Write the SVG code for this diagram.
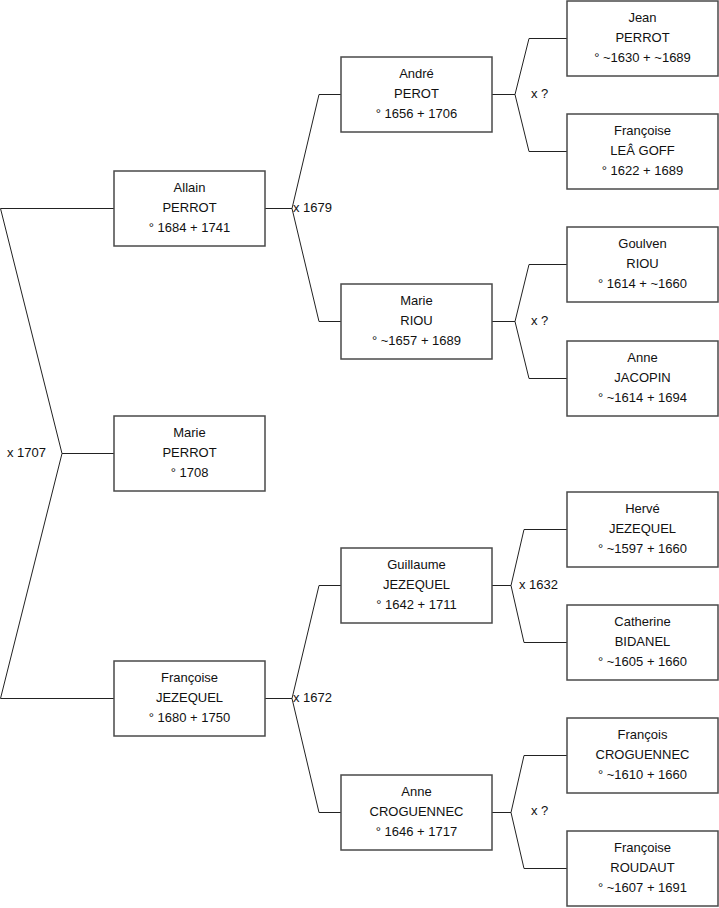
<svg xmlns="http://www.w3.org/2000/svg" width="719" height="908" viewBox="0 0 719 908">
<style>
  .box rect { fill: #fff; stroke: #4a4a4a; stroke-width: 1.5; }
  .box text { font-family: "Liberation Sans", Arial, sans-serif; font-size: 13px; fill: #111; text-anchor: middle; }
  .conn path { fill: none; stroke: #222; stroke-width: 1; }
  .lbl { font-family: "Liberation Sans", Arial, sans-serif; font-size: 13px; fill: #111; }
</style>
<rect width="719" height="908" fill="#fff"/>
<g id="connectors" class="conn">
  <path d="M114,208.5 H0.5 L62,453.5 L0.5,698.5 H114 M62,453.5 H114"/>
  <path d="M265,208.5 H292 M341,94.5 H319 L292,208.5 L319,321.5 H341"/>
  <path d="M265,698.5 H292 M341,585.5 H319 L292,698.5 L319,812.5 H341"/>
  <path d="M492,94.5 H515 M567,38.5 H529 L515,94.5 L529,151.5 H567"/>
  <path d="M492,321.5 H515 M567,264.5 H529 L515,321.5 L529,378.5 H567"/>
  <path d="M492,585.5 H511 M567,529.5 H524 L511,585.5 L524,642.5 H567"/>
  <path d="M492,812.5 H511 M567,755.5 H524 L511,812.5 L524,868.5 H567"/>
</g>
<g id="labels">
  <text class="lbl" x="7" y="457">x 1707</text>
  <text class="lbl" x="293" y="212">x 1679</text>
  <text class="lbl" x="293" y="702">x 1672</text>
  <text class="lbl" x="531" y="98">x ?</text>
  <text class="lbl" x="531" y="325">x ?</text>
  <text class="lbl" x="519" y="589">x 1632</text>
  <text class="lbl" x="531" y="815">x ?</text>
</g>
<g id="allain" class="box"><rect x="114" y="171" width="151" height="75"/>
  <text x="189.5" y="192">Allain</text><text x="189.5" y="212">PERROT</text><text x="189.5" y="232">° 1684 + 1741</text></g>
<g id="marie-perrot" class="box"><rect x="114" y="416" width="151" height="75"/>
  <text x="189.5" y="437">Marie</text><text x="189.5" y="457">PERROT</text><text x="189.5" y="477">° 1708</text></g>
<g id="francoise-jezequel" class="box"><rect x="114" y="661" width="151" height="75"/>
  <text x="189.5" y="682">Françoise</text><text x="189.5" y="702">JEZEQUEL</text><text x="189.5" y="722">° 1680 + 1750</text></g>
<g id="andre" class="box"><rect x="341" y="57" width="151" height="75"/>
  <text x="416.5" y="78">André</text><text x="416.5" y="98">PEROT</text><text x="416.5" y="118">° 1656 + 1706</text></g>
<g id="marie-riou" class="box"><rect x="341" y="284" width="151" height="75"/>
  <text x="416.5" y="305">Marie</text><text x="416.5" y="325">RIOU</text><text x="416.5" y="345">° ~1657 + 1689</text></g>
<g id="guillaume" class="box"><rect x="341" y="548" width="151" height="75"/>
  <text x="416.5" y="569">Guillaume</text><text x="416.5" y="589">JEZEQUEL</text><text x="416.5" y="609">° 1642 + 1711</text></g>
<g id="anne-croguennec" class="box"><rect x="341" y="775" width="151" height="75"/>
  <text x="416.5" y="796">Anne</text><text x="416.5" y="816">CROGUENNEC</text><text x="416.5" y="836">° 1646 + 1717</text></g>
<g id="jean" class="box"><rect x="567" y="1" width="151" height="75"/>
  <text x="642.5" y="22">Jean</text><text x="642.5" y="42">PERROT</text><text x="642.5" y="62">° ~1630 + ~1689</text></g>
<g id="francoise-legoff" class="box"><rect x="567" y="114" width="151" height="75"/>
  <text x="642.5" y="135">Françoise</text><text x="642.5" y="155">LEÂ GOFF</text><text x="642.5" y="175">° 1622 + 1689</text></g>
<g id="goulven" class="box"><rect x="567" y="227" width="151" height="75"/>
  <text x="642.5" y="248">Goulven</text><text x="642.5" y="268">RIOU</text><text x="642.5" y="288">° 1614 + ~1660</text></g>
<g id="anne-jacopin" class="box"><rect x="567" y="341" width="151" height="75"/>
  <text x="642.5" y="362">Anne</text><text x="642.5" y="382">JACOPIN</text><text x="642.5" y="402">° ~1614 + 1694</text></g>
<g id="herve" class="box"><rect x="567" y="492" width="151" height="75"/>
  <text x="642.5" y="513">Hervé</text><text x="642.5" y="533">JEZEQUEL</text><text x="642.5" y="553">° ~1597 + 1660</text></g>
<g id="catherine" class="box"><rect x="567" y="605" width="151" height="75"/>
  <text x="642.5" y="626">Catherine</text><text x="642.5" y="646">BIDANEL</text><text x="642.5" y="666">° ~1605 + 1660</text></g>
<g id="francois" class="box"><rect x="567" y="718" width="151" height="75"/>
  <text x="642.5" y="739">François</text><text x="642.5" y="759">CROGUENNEC</text><text x="642.5" y="779">° ~1610 + 1660</text></g>
<g id="francoise-roudaut" class="box"><rect x="567" y="831" width="151" height="75"/>
  <text x="642.5" y="852">Françoise</text><text x="642.5" y="872">ROUDAUT</text><text x="642.5" y="892">° ~1607 + 1691</text></g>
</svg>
